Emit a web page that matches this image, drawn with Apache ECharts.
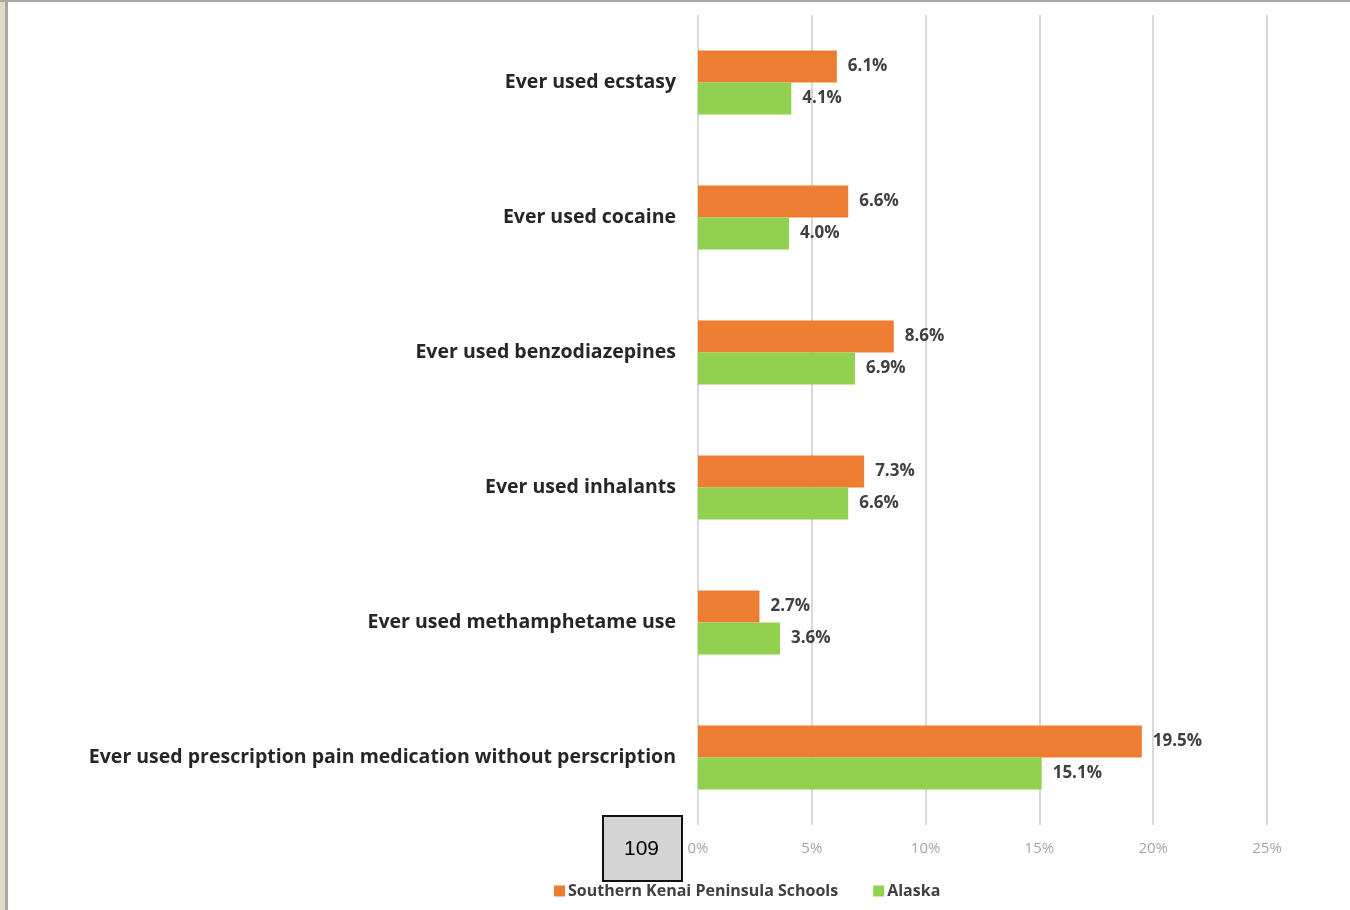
<!DOCTYPE html>
<html><head><meta charset="utf-8">
<script src="https://cdn.jsdelivr.net/npm/echarts@6/dist/echarts.min.js"></script>
<style>html,body{margin:0;padding:0;background:#fff}#c{width:1350px;height:910px}</style>
</head><body><div id="c"></div>
<script>
const categories = [
  "Ever used ecstasy",
  "Ever used cocaine",
  "Ever used benzodiazepines",
  "Ever used inhalants",
  "Ever used methamphetame use",
  "Ever used prescription pain medication without perscription"
];
const seriesNames = ["Southern Kenai Peninsula Schools", "Alaska"];
const kenai = [6.1, 6.6, 8.6, 7.3, 2.7, 19.5];
const alaska = [4.1, 4.0, 6.9, 6.6, 3.6, 15.1];
const xTicks = [0, 5, 10, 15, 20, 25];
const pageNumber = "109";

const chart = echarts.init(document.getElementById('c'));
const labelCfg = {
  show: true, position: 'right', distance: 11,
  formatter: p => p.value.toFixed(1) + '%',
  fontFamily: 'Open Sans', fontWeight: 'bold', fontSize: 17, color: '#404040'
};
chart.setOption({
  animation: false,
  backgroundColor: '#fff',
  grid: { left: 698, right: 83, top: 15, bottom: 85, containLabel: false },
  legend: {
    bottom: 6, left: 549,
    itemWidth: 11, itemHeight: 11, itemGap: 35,
    icon: 'rect',
    textStyle: { fontFamily: 'Open Sans', fontWeight: 'bold', fontSize: 16, color: '#404040', padding: [0, 0, 0, -2] },
    data: seriesNames
  },
  xAxis: {
    type: 'value', min: xTicks[0], max: xTicks[xTicks.length - 1], interval: 5,
    axisLine: { show: false }, axisTick: { show: false },
    splitLine: { lineStyle: { color: '#d9d9d9', width: 2 } },
    axisLabel: { formatter: v => v + '%', color: '#a6a6a6', fontFamily: 'Open Sans', fontSize: 15, margin: 16 }
  },
  yAxis: {
    type: 'category', inverse: true, data: categories,
    axisLine: { show: false }, axisTick: { show: false },
    axisLabel: { color: '#262626', fontFamily: 'Open Sans', fontWeight: 'bold', fontSize: 19.5, margin: 22 }
  },
  series: [
    { name: seriesNames[0], type: 'bar', data: kenai, barWidth: 32, barGap: '0%',
      itemStyle: { color: '#ed7d31' }, label: labelCfg },
    { name: seriesNames[1], type: 'bar', data: alaska, barWidth: 32, barGap: '0%',
      itemStyle: { color: '#92d050' }, label: labelCfg }
  ],
  graphic: [
    { type: 'rect', left: 0, top: 0, shape: { width: 7, height: 910 }, style: { fill: '#e0dbc2' }, silent: true },
    { type: 'rect', left: 5, top: 0, shape: { width: 3, height: 910 }, style: { fill: '#a8a8a8' }, silent: true },
    { type: 'rect', left: 0, top: 0, shape: { width: 1350, height: 2 }, style: { fill: '#a8a8a8' }, silent: true },
    { type: 'rect', left: 602, top: 815, shape: { width: 79, height: 65 }, style: { fill: '#d4d4d4', stroke: '#111', lineWidth: 2 }, silent: true },
    { type: 'text', left: 624, top: 839, style: { text: pageNumber, font: '21px "Liberation Sans", Arial', fill: '#000' }, silent: true }
  ]
});
</script>
</body></html>
